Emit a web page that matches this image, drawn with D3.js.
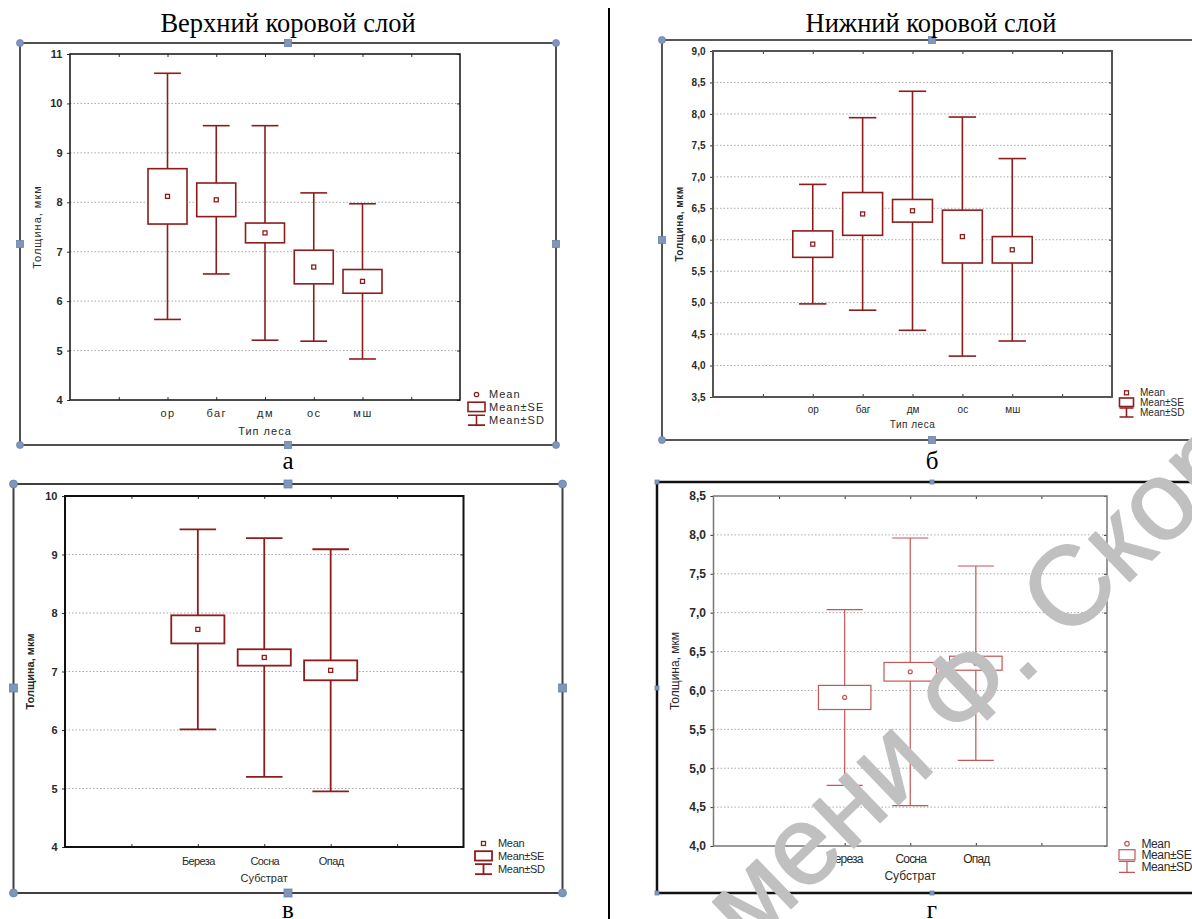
<!DOCTYPE html>
<html>
<head>
<meta charset="utf-8">
<script src="https://cdn.jsdelivr.net/npm/d3@7"></script>
<style>
  body { margin: 0; background: #fff; }
  svg { display: block; }
</style>
</head>
<body>
<div id="chart"></div>
<script>
// тип леса, верхний / нижний коровой слой
const forestTypes = ["ор", "баг", "дм", "ос", "мш"];
const upperMean = [8.12, 8.05, 7.38, 6.69, 6.40];
const upperSE = [0.56, 0.34, 0.20, 0.34, 0.24];
const upperSD = [2.49, 1.50, 2.17, 1.50, 1.57];
const lowerMean = [5.93, 6.41, 6.46, 6.05, 5.84];
const lowerSE = [0.21, 0.34, 0.18, 0.42, 0.21];
const lowerSD = [0.95, 1.53, 1.90, 1.90, 1.45];

// субстрат
const substrates = ["Береза", "Сосна", "Опад"];
const subUpperMean = [7.72, 7.24, 7.02];
const subUpperSE = [0.24, 0.14, 0.17];
const subUpperSD = [1.71, 2.04, 2.07];
const subLowerMean = [5.91, 6.24, 6.35];
const subLowerSE = [0.155, 0.12, 0.09];
const subLowerSD = [1.13, 1.72, 1.25];

const ticksUpper = [4, 5, 6, 7, 8, 9, 10, 11];
const ticksLower = [3.5, 4, 4.5, 5, 5.5, 6, 6.5, 7, 7.5, 8, 8.5, 9];
const ticksSubUpper = [4, 5, 6, 7, 8, 9, 10];
const ticksSubLower = [4, 4.5, 5, 5.5, 6, 6.5, 7, 7.5, 8, 8.5];

const legendLabels = ["Mean", "Mean±SE", "Mean±SD"];
const yTitle = "Толщина, мкм";

const FONT = "'Liberation Sans', Arial, sans-serif";
const SERIF = "'Liberation Serif', 'Times New Roman', serif";

const svg = d3.select("#chart").append("svg")
    .attr("width", 1192)
    .attr("height", 919);

const intFmt = d3.format("d");
const commaFmt = d => d3.format(".1f")(d).replace(".", ",");

const panels = [
    {
        cats: forestTypes, mean: upperMean, se: upperSE, sd: upperSD,
        ticks: ticksUpper, fmt: intFmt,
        plot: [70, 54, 460, 400],
        color: "#8e1c1c", lw: 1.6, border: "#111", borderW: 1.5,
        tickFs: 11, tickW: "bold", catFs: 11, catSpace: 1.5, catPad: 9.5,
        xTitle: "Тип леса", xTitleY: 435, yTitleX: 40.5, yTitleW: "normal", labFs: 11, labSpace: 1,
        marker: "square", mk: 4,
        legend: { cx: 476.5, b: 398, dy: 13, w: 17, fs: 11, tx: 489, space: 1, meanShape: "circle" }
    },
    {
        cats: forestTypes, mean: lowerMean, se: lowerSE, sd: lowerSD,
        ticks: ticksLower, fmt: commaFmt,
        plot: [713, 51, 1112, 397],
        color: "#8e1c1c", lw: 1.6, border: "#555", borderW: 2,
        tickFs: 10, tickW: "bold", catFs: 10, catSpace: 0, catPad: 9,
        xTitle: "Тип леса", xTitleY: 428, yTitleX: 683, yTitleW: "bold", labFs: 10, labSpace: 0.5,
        marker: "square", mk: 4,
        legend: { cx: 1126.5, b: 396, dy: 10, w: 14, fs: 10, tx: 1140, space: 0, meanShape: "square" }
    },
    {
        cats: substrates, mean: subUpperMean, se: subUpperSE, sd: subUpperSD,
        ticks: ticksSubUpper, fmt: intFmt,
        plot: [65, 496, 463.5, 847],
        color: "#8e1c1c", lw: 1.8, border: "#111", borderW: 2,
        tickFs: 11, tickW: "bold", catFs: 11, catSpace: -0.6, catPad: 10,
        xTitle: "Субстрат", xTitleY: 882, yTitleX: 34, yTitleW: "bold", labFs: 11, labSpace: 0,
        marker: "square", mk: 4,
        legend: { cx: 483.5, b: 847, dy: 13, w: 17, fs: 11, tx: 498, space: -0.3, meanShape: "square" }
    },
    {
        cats: substrates, mean: subLowerMean, se: subLowerSE, sd: subLowerSD,
        ticks: ticksSubLower, fmt: commaFmt,
        plot: [713.5, 496, 1107, 846],
        color: "#c25757", lw: 1.2, border: "#777", borderW: 1.5,
        tickFs: 12, tickW: "bold", catFs: 12, catSpace: -0.8, catPad: 8.8,
        xTitle: "Субстрат", xTitleY: 880, yTitleX: 679, yTitleW: "normal", labFs: 12, labSpace: 0,
        marker: "circle", mk: 4,
        legend: { cx: 1127, b: 847.5, dy: 11.8, w: 16, fs: 12, tx: 1141.5, space: -0.4, meanShape: "circle" }
    }
];

// outer frames with selection handles
function frame(x0, y0, x1, y1, stroke, w) {
    svg.append("path")
        .attr("d", `M${x1},${y0}H${x0}V${y1}H${x1}` + (x1 < 1192 ? `V${y0}` : ""))
        .attr("fill", "none")
        .attr("stroke", stroke)
        .attr("stroke-width", w);
}
function handle(x, y, type, s) {
    if (type === "c") {
        svg.append("circle").attr("cx", x).attr("cy", y).attr("r", s / 2)
            .attr("fill", "#7f97bb").attr("stroke", "#6a83a9").attr("stroke-width", 0.8);
    } else {
        svg.append("rect").attr("x", x - s / 2).attr("y", y - s / 2).attr("width", s).attr("height", s)
            .attr("fill", "#7f97bb").attr("stroke", "#6a83a9").attr("stroke-width", 0.8);
    }
}

frame(20, 43, 556, 445, "#505050", 2);
frame(662, 40, 1192, 440, "#555", 2);
frame(13.5, 484, 562.5, 893, "#404040", 2);
frame(657, 482, 1192, 893, "#111", 2.5);

// separator
svg.append("line").attr("x1", 609).attr("x2", 609).attr("y1", 8).attr("y2", 919)
    .attr("stroke", "#000").attr("stroke-width", 2);

function drawPanel(p) {
    const g = svg.append("g");
    const n = p.cats.length;
    const [px0, py0, px1, py1] = p.plot;
    const x = d3.scaleLinear().domain([0, n + 3]).range([px0, px1]);
    const y = d3.scaleLinear().domain([p.ticks[0], p.ticks[p.ticks.length - 1]]).range([py1, py0]);
    const step = x(1) - x(0);
    const slots = d3.range(1, n + 3);

    g.selectAll(".grid").data(p.ticks.slice(1, -1)).join("line")
        .attr("x1", px0).attr("x2", px1)
        .attr("y1", d => y(d)).attr("y2", d => y(d))
        .attr("stroke", "#a9a9a9").attr("stroke-width", 1)
        .attr("stroke-dasharray", "1.5,2");

    const items = p.cats.map((c, i) => ({ c, i, m: p.mean[i], se: p.se[i], sd: p.sd[i] }));
    const boxW = step * 0.8, capW = step * 0.55;
    const b = g.selectAll(".box").data(items).join("g").attr("class", "box");
    b.append("line")
        .attr("x1", d => x(d.i + 2)).attr("x2", d => x(d.i + 2))
        .attr("y1", d => y(d.m - d.sd)).attr("y2", d => y(d.m + d.sd))
        .attr("stroke", p.color).attr("stroke-width", p.lw);
    b.append("line")
        .attr("x1", d => x(d.i + 2) - capW / 2).attr("x2", d => x(d.i + 2) + capW / 2)
        .attr("y1", d => y(d.m + d.sd)).attr("y2", d => y(d.m + d.sd))
        .attr("stroke", p.color).attr("stroke-width", p.lw);
    b.append("line")
        .attr("x1", d => x(d.i + 2) - capW / 2).attr("x2", d => x(d.i + 2) + capW / 2)
        .attr("y1", d => y(d.m - d.sd)).attr("y2", d => y(d.m - d.sd))
        .attr("stroke", p.color).attr("stroke-width", p.lw);
    b.append("rect")
        .attr("x", d => x(d.i + 2) - boxW / 2).attr("width", boxW)
        .attr("y", d => y(d.m + d.se)).attr("height", d => y(d.m - d.se) - y(d.m + d.se))
        .attr("fill", "#fff").attr("stroke", p.color).attr("stroke-width", p.lw);
    if (p.marker === "circle") {
        b.append("circle").attr("cx", d => x(d.i + 2)).attr("cy", d => y(d.m)).attr("r", p.mk / 2)
            .attr("fill", "#fff").attr("stroke", p.color).attr("stroke-width", 1.2);
    } else {
        b.append("rect").attr("x", d => x(d.i + 2) - p.mk / 2).attr("y", d => y(d.m) - p.mk / 2)
            .attr("width", p.mk).attr("height", p.mk)
            .attr("fill", "#fff").attr("stroke", p.color).attr("stroke-width", 1.3);
    }

    // axes
    const yl = g.append("g").attr("transform", `translate(${px0},0)`)
        .call(d3.axisLeft(y).tickValues(p.ticks).tickFormat(p.fmt).tickSize(3).tickPadding(4.5));
    yl.selectAll("text").attr("font-family", FONT).attr("font-size", p.tickFs)
        .attr("font-weight", p.tickW).attr("fill", "#2a2a2a");
    g.append("g").attr("transform", `translate(${px1},0)`)
        .call(d3.axisRight(y).tickValues(p.ticks).tickFormat("").tickSize(-3));
    const xb = g.append("g").attr("transform", `translate(0,${py1})`)
        .call(d3.axisBottom(x).tickValues(slots).tickFormat(d => p.cats[d - 2] || "")
            .tickSizeInner(-3).tickSizeOuter(0).tickPadding(p.catPad));
    xb.selectAll("text").attr("font-family", FONT).attr("font-size", p.catFs)
        .attr("letter-spacing", p.catSpace).attr("fill", "#2a2a2a");
    g.append("g").attr("transform", `translate(0,${py0})`)
        .call(d3.axisTop(x).tickValues(slots).tickFormat("").tickSizeInner(-3).tickSizeOuter(0));
    g.selectAll(".domain").remove();
    g.selectAll(".tick line").attr("stroke", "#333");

    g.append("rect").attr("x", px0).attr("y", py0).attr("width", px1 - px0).attr("height", py1 - py0)
        .attr("fill", "none").attr("stroke", p.border).attr("stroke-width", p.borderW);

    g.append("text").attr("x", (px0 + px1) / 2).attr("y", p.xTitleY)
        .attr("text-anchor", "middle").attr("font-family", FONT).attr("font-size", p.labFs)
        .attr("letter-spacing", p.labSpace).attr("fill", "#2a2a2a").text(p.xTitle);
    g.append("text").attr("transform", `translate(${p.yTitleX},${(py0 + py1) / 2}) rotate(-90)`)
        .attr("text-anchor", "middle").attr("font-family", FONT).attr("font-size", p.labFs)
        .attr("font-weight", p.yTitleW).attr("letter-spacing", p.labSpace)
        .attr("fill", "#2a2a2a").text(yTitle);

    // legend
    const L = p.legend, fs = L.fs;
    const lg = g.append("g");
    lg.selectAll("text").data(legendLabels).join("text")
        .attr("x", L.tx).attr("y", (d, i) => L.b + i * L.dy)
        .attr("font-family", FONT).attr("font-size", fs).attr("letter-spacing", L.space)
        .attr("fill", "#2a2a2a").text(d => d);
    const my = L.b - fs * 0.32;
    if (L.meanShape === "circle") {
        lg.append("circle").attr("cx", L.cx).attr("cy", my).attr("r", 2.2)
            .attr("fill", "none").attr("stroke", p.color).attr("stroke-width", 1.2);
    } else {
        lg.append("rect").attr("x", L.cx - 2).attr("y", my - 2).attr("width", 4).attr("height", 4)
            .attr("fill", "none").attr("stroke", p.color).attr("stroke-width", 1.3);
    }
    const sb = L.b + L.dy;
    lg.append("rect").attr("x", L.cx - L.w / 2).attr("y", sb - fs * 0.8)
        .attr("width", L.w).attr("height", fs * 0.85)
        .attr("fill", "none").attr("stroke", p.color).attr("stroke-width", p.lw);
    const db = L.b + 2 * L.dy, t = db - fs * 0.8, bt = db + fs * 0.1;
    lg.append("path")
        .attr("d", `M${L.cx - L.w / 2},${t}H${L.cx + L.w / 2}M${L.cx},${t}V${bt}M${L.cx - L.w / 2},${bt}H${L.cx + L.w / 2}`)
        .attr("fill", "none").attr("stroke", p.color).attr("stroke-width", p.lw);
}

panels.forEach(drawPanel);

// handles
[[20, 43, "c"], [288, 43, "s"], [556, 43, "c"], [20, 244, "s"], [556, 244, "s"],
 [20, 445, "c"], [288, 445, "s"], [556, 445, "c"]].forEach(h => handle(h[0], h[1], h[2], 7));
[[662, 40, "c"], [932, 40, "s"], [662, 240, "s"], [662, 440, "c"], [932, 440, "s"]]
    .forEach(h => handle(h[0], h[1], h[2], 7));
[[13.5, 484, "c"], [288, 484, "s"], [562.5, 484, "c"], [13.5, 688, "s"], [562.5, 688, "s"],
 [13.5, 893, "c"], [288, 893, "s"], [562.5, 893, "c"]].forEach(h => handle(h[0], h[1], h[2], 8));
[[657, 482, "s"], [932, 482, "s"], [657, 688, "s"], [657, 893, "s"], [932, 893, "s"]]
    .forEach(h => handle(h[0], h[1], h[2], 4));

// titles and captions
const serifText = (x, y, s, fs) => svg.append("text").attr("x", x).attr("y", y)
    .attr("text-anchor", "middle").attr("font-family", SERIF).attr("font-size", fs)
    .attr("fill", "#000").text(s);
serifText(288, 32, "Верхний коровой слой", 26.5);
serifText(931, 32, "Нижний коровой слой", 26.5);
serifText(288, 469, "а", 25);
serifText(932, 469, "б", 25);
serifText(288, 918, "в", 25);
serifText(932, 918, "г", 25);

// watermark
svg.append("text")
    .attr("transform", "translate(748,950) rotate(-44)")
    .attr("font-family", FONT).attr("font-size", 112)
    .attr("fill", "#c0c0c0").attr("stroke", "#c0c0c0").attr("stroke-width", 1.5)
    .attr("stroke-linejoin", "round")
    .text("мени Ф. Скорины");
</script>
</body>
</html>
